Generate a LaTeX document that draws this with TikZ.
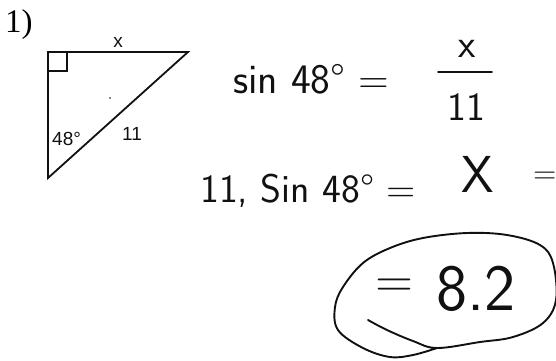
\documentclass[tikz,border=0pt]{standalone}
\usepackage{fontspec}
\setmainfont{Liberation Serif}
\newfontfamily\printsans{Liberation Sans}
\usepackage{tikz}
\usetikzlibrary{positioning,calc}
\definecolor{inkblack}{HTML}{111111}
\tikzset{
  lbl/.style={font=\printsans\fontsize{19}{19}\selectfont, inner sep=0pt,
              text=inkblack},
  hand/.style={font=\sffamily\fontsize{#1}{#1}\selectfont, inner sep=0pt,
               text=inkblack},
  hand/.default=40,
  edge/.style={draw=inkblack, line width=1.8pt, line join=miter},
  pen/.style={draw=inkblack, line width=1.9pt, line cap=round, line join=round},
}

\begin{document}
\begin{tikzpicture}[x=1pt, y=-1pt]
\useasboundingbox (0,0) rectangle (556,360);

% ------------------------- problem number -------------------------------
\node[anchor=base west, inner sep=0pt, font=\fontsize{33}{33}\selectfont]
   at (5,32) (num) {1)};

% ------------------------- triangle -------------------------------------
\coordinate (rt) at (48,52);
\coordinate (tr) at (188,52);
\coordinate (bt) at (48,178);
\draw[edge] (rt) -- (tr) -- (bt) -- cycle;
\draw[edge, line width=1.3pt] ($(rt)+(0,19)$) -| ($(rt)+(19,0)$);
\fill[inkblack] (110,98) circle (0.8);

\node[lbl, anchor=base] at (118,47) (xlab) {x};
\node[lbl, anchor=base west] at (52,145) (ang) {48°};
\node[lbl, anchor=base west] at (122,140) (hyp) {11};

% ------------------------- first line -----------------------------------
\node[hand=42, anchor=base west] at (233,93) (sinA) {sin 48° =};
\node[hand, anchor=base] at (467,57) (numA) {x};
\node[hand, anchor=base] at (466,120) (denA) {11};
\draw[pen] (438,72) -- (492,72);

% ------------------------- second line ----------------------------------
\node[hand, anchor=base west] at (200,202) (sinB) {11, Sin 48° =};
\node[hand=52, anchor=base west] at (461,192) (xB) {X};
\node[hand=32, anchor=west] at (533,178) (eqB) {=};

% ------------------------- answer ---------------------------------------
\node[hand=52, anchor=west] at (375,288) (eqC) {=};
\node[hand=66, anchor=base west] at (436,310) (ans) {8.2};
\draw[pen] plot[smooth, tension=0.6] coordinates {
   (368,320) (387,330) (413,341) (437,348) (480,342) (513,337) (543,323)
   (556,300) (553,263) (540,245) (507,235) (467,233) (423,238) (390,248)
   (363,263) (343,287) (335,307) (338,330) (363,348) (390,357) (413,355)
   (437,348)};
\end{tikzpicture}
\end{document}
